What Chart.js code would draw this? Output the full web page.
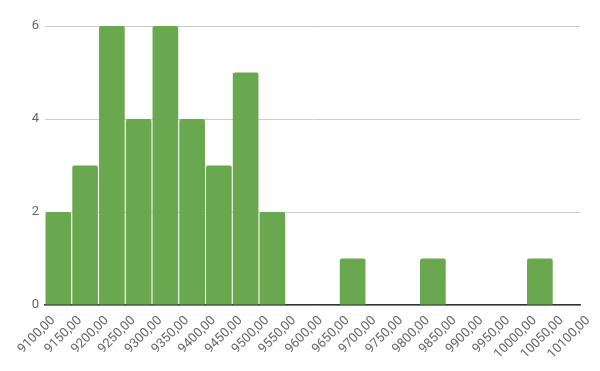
<!DOCTYPE html>
<html>
<head>
<meta charset="utf-8">
<script src="https://cdn.jsdelivr.net/npm/chart.js@4/dist/chart.umd.min.js"></script>
<style>
  html, body { margin: 0; padding: 0; background: #fff; }
  #wrap { width: 600px; height: 371px; }
</style>
</head>
<body>
<div id="wrap"><canvas id="histograma"></canvas></div>
<script>
// centros das faixas (largura 50) e contagens
const centros = [9125, 9175, 9225, 9275, 9325, 9375, 9425, 9475, 9525, 9575,
                 9625, 9675, 9725, 9775, 9825, 9875, 9925, 9975, 10025, 10075];
const contagens = [2, 3, 6, 4, 6, 4, 3, 5, 2, 0, 0, 1, 0, 0, 1, 0, 0, 0, 1, 0];
const ticksY = [0, 2, 4, 6];

const ctx = document.getElementById('histograma').getContext('2d');

new Chart(ctx, {
    type: 'bar',
    data: {
        datasets: [{
            data: centros.map((c, i) => ({ x: c, y: contagens[i] })),
            backgroundColor: '#6aa84f',
            borderRadius: 2,
            borderSkipped: 'bottom',
            barPercentage: 0.96,
            categoryPercentage: 1
        }]
    },
    options: {
        responsive: true,
        maintainAspectRatio: false,
        animation: false,
        layout: { padding: { top: 26, right: 20, left: 0, bottom: 0 } },
        plugins: {
            legend: { display: false },
            tooltip: { enabled: false }
        },
        scales: {
            x: {
                type: 'linear',
                offset: false,
                min: 9100,
                max: 10100,
                grid: { display: false, offset: false, drawTicks: false },
                border: { color: '#333', width: 1.5 },
                ticks: {
                    stepSize: 50,
                    autoSkip: false,
                    maxRotation: 45,
                    minRotation: 45,
                    padding: 8,
                    labelOffset: 8,
                    color: '#666',
                    font: { family: 'Roboto', size: 13 },
                    callback: v => v.toFixed(2).replace('.', ',')
                },
                afterFit: s => { s.height = 66; }
            },
            y: {
                min: 0,
                max: 6,
                afterBuildTicks: s => { s.ticks = ticksY.map(v => ({ value: v })); },
                grid: { color: '#cccccc', drawTicks: false },
                border: { display: false },
                ticks: {
                    padding: 6,
                    color: '#666',
                    font: { family: 'Roboto', size: 13 }
                },
                afterFit: s => { s.width = 45; }
            }
        }
    }
});
</script>
</body>
</html>
